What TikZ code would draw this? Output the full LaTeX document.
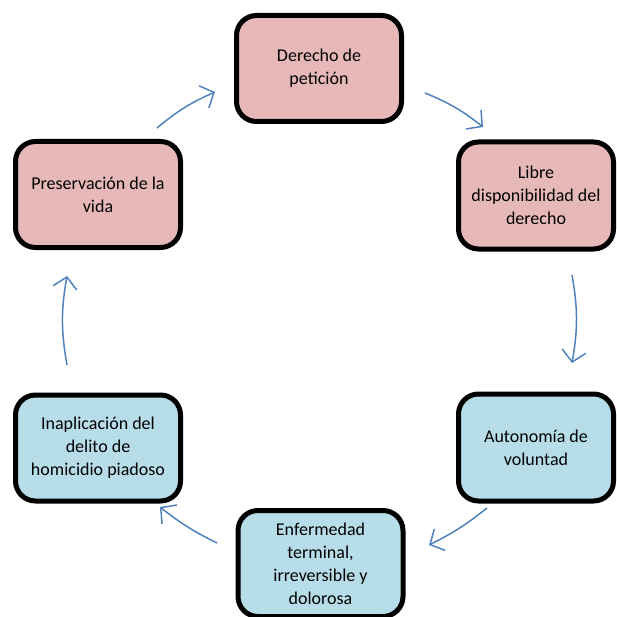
\documentclass[tikz,border=0pt]{standalone}
\usepackage{fontspec}
\setmainfont{Carlito}
\usetikzlibrary{arrows.meta}
\definecolor{boxpink}{HTML}{E6B9B8}
\definecolor{boxblue}{HTML}{B7DEE8}
\definecolor{arrblue}{HTML}{4F81BD}
\tikzset{
  stagebox/.style={draw=black, line width=5pt, rounded corners=20pt, align=center,
    font=\fontsize{18}{23}\selectfont, inner sep=0pt},
  leftbox/.style={stagebox, minimum width=165pt, minimum height=106pt},
  rightbox/.style={stagebox, minimum width=155pt, minimum height=107pt},
  flow/.style={draw=arrblue, line width=1.5pt, -{Straight Barb[length=11pt,width=24pt]}},
}
\begin{document}
\begin{tikzpicture}[x=1pt,y=-1pt]
\useasboundingbox (0,0) rectangle (616,617);
\node[leftbox, fill=boxpink] (der) at (319,68.5) {Derecho de\\petición};
\node[rightbox, fill=boxpink] (lib) at (536,195.5) {Libre\\disponibilidad del\\derecho};
\node[rightbox, fill=boxblue] (aut) at (536,447.5) {Autonomía de\\voluntad};
\node[leftbox, fill=boxblue] (enf) at (320.5,563.5) {Enfermedad\\terminal,\\irreversible y\\dolorosa};
\node[leftbox, fill=boxblue] (ina) at (98,448) {Inaplicación del\\delito de\\homicidio piadoso};
\node[leftbox, fill=boxpink] (pre) at (98,194.5) {Preservación de la\\vida};
% arrow end points
\coordinate (a1s) at (425,93);   \coordinate (a1e) at (483,127);
\coordinate (a2s) at (572,275);  \coordinate (a2e) at (572,363);
\coordinate (a3s) at (487,508);  \coordinate (a3e) at (429,545);
\coordinate (a4s) at (217,543);  \coordinate (a4e) at (160,507);
\coordinate (a5s) at (67,365);   \coordinate (a5e) at (67,276);
\coordinate (a6s) at (157,128);  \coordinate (a6e) at (215,92);
\draw[flow] (a1s) to[bend left=8] (a1e);
\draw[flow] (a2s) to[bend left=10] (a2e);
\draw[flow] (a3s) to[bend left=6] (a3e);
\draw[flow] (a4s) to[bend left=6] (a4e);
\draw[flow] (a5s) to[bend left=10] (a5e);
\draw[flow] (a6s) to[bend left=8] (a6e);
\end{tikzpicture}
\end{document}
